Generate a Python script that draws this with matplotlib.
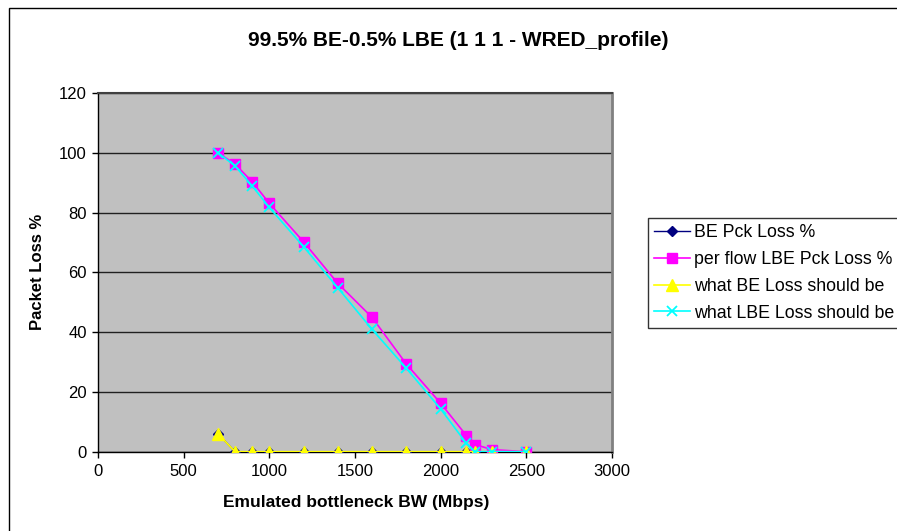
import matplotlib.pyplot as plt
import matplotlib.patches as patches

plt.rcParams['font.family'] = ['Liberation Sans', 'DejaVu Sans']

# emulated bottleneck bandwidth (Mbps)
bw = [700, 800, 900, 1000, 1200, 1400, 1600, 1800, 2000, 2150, 2200, 2300, 2500]

be_loss = [6, 0, 0, 0, 0, 0, 0, 0, 0, 0, 0, 0, 0]
lbe_loss = [100, 96.2, 90.3, 83.1, 70.2, 56.3, 44.9, 29.3, 16.2, 5.4, 2.4, 0.7, 0]
be_expected = [6, 0, 0, 0, 0, 0, 0, 0, 0, 0, 0, 0, 0]
lbe_expected = [100, 95.6, 88.9, 81.7, 68.6, 54.8, 40.9, 27.9, 14.3, 2.8, 0, 0, 0]

labels = ['BE Pck Loss %', 'per flow LBE Pck Loss %',
          'what BE Loss should be', 'what LBE Loss should be']

W, H = 897, 531
fig = plt.figure(figsize=(W / 100, H / 100), dpi=100)
ax = fig.add_axes([98 / W, 1 - 451.7 / H, (612 - 98) / W, (451.7 - 93) / H])
ax.set_facecolor('#C0C0C0')

l1, = ax.plot(bw, be_loss, color='#000080', lw=1, marker='D', ms=5.5, zorder=3)
l2, = ax.plot(bw, lbe_loss, color='#FF00FF', lw=1.2, marker='s', ms=6.5, zorder=4)
l3, = ax.plot(bw, be_expected, color='#FFFF00', lw=1.2, marker='^', ms=8, zorder=5)
l4, = ax.plot(bw, lbe_expected, color='#00FFFF', lw=1.2, marker='x', ms=7,
              mew=1.3, zorder=6)

ax.set_xlim(0, 3000)
ax.set_ylim(0, 120)
ax.set_xticks(range(0, 3001, 500))
ax.set_yticks(range(0, 121, 20))
ax.yaxis.grid(True, color='#202020', lw=1)
ax.set_axisbelow(True)
ax.tick_params(axis='both', labelsize=12, length=4, width=1, direction='out')
ax.tick_params(axis='x', pad=5)
ax.tick_params(axis='y', pad=4)

for s in ['left', 'bottom']:
    ax.spines[s].set_color('black')
    ax.spines[s].set_linewidth(1)
ax.spines['top'].set_color('#404040')
ax.spines['top'].set_linewidth(1.5)
ax.spines['right'].set_color('#808080')
ax.spines['right'].set_linewidth(2)

fig.text(458 / W, 1 - 40 / H, '99.5% BE-0.5% LBE (1 1 1 - WRED_profile)',
         ha='center', va='center', fontsize=15, fontweight='bold')
fig.text(38 / W, 1 - 272 / H, 'Packet Loss %', rotation=90,
         ha='center', va='center', fontsize=12, fontweight='bold')
fig.text(356 / W, 1 - 502 / H, 'Emulated bottleneck BW (Mbps)',
         ha='center', va='center', fontsize=12.5, fontweight='bold')

leg = fig.legend([l1, l2, l3, l4], labels, loc='upper left',
                 bbox_to_anchor=(648 / W, 1 - 218 / H), fontsize=12.8,
                 frameon=True, fancybox=False, shadow=False,
                 handlelength=2.0, handletextpad=0.25, borderpad=0.35,
                 labelspacing=0.55, borderaxespad=0)
leg.get_frame().set_edgecolor('black')
leg.get_frame().set_linewidth(1)

# outer chart frame
fig.patches.append(patches.Rectangle((9 / W, -0.1), 2, 1 - 8 / H + 0.1,
                                     transform=fig.transFigure, fill=False,
                                     edgecolor='black', lw=1))

fig.savefig('out.png', dpi=100)
